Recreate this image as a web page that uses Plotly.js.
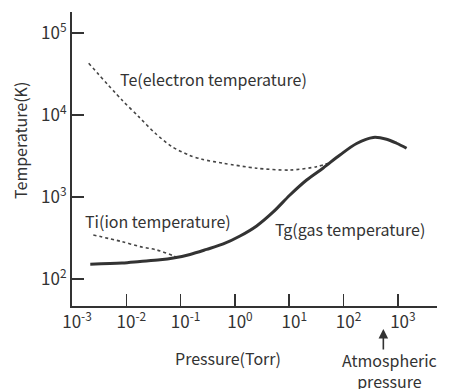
<!DOCTYPE html>
<html>
<head>
<meta charset="utf-8">
<script src="https://cdn.plot.ly/plotly-3.0.1.min.js"></script>
<style>html,body{margin:0;padding:0;background:#fff;}#chart{width:474px;height:389px;}</style>
</head>
<body>
<div id="chart"></div>
<script>
// Pressure (Torr) and temperatures (K)
const tgPressure = [0.00217, 0.00832, 0.0179, 0.0417, 0.0733, 0.149, 0.301, 0.610, 1.24, 2.51, 5.07, 10.3, 20.9, 42.2, 85.7, 174, 352, 619, 946, 1445];
const tgTemp     = [151, 156, 163, 171, 180, 199, 229, 267, 334, 443, 656, 1057, 1610, 2260, 3250, 4490, 5320, 5060, 4520, 3930];

const tePressure = [0.00203, 0.00832, 0.0169, 0.0341, 0.0693, 0.141, 0.247, 0.61, 2.51, 10.3, 31.9, 58.5];
const teTemp     = [42700, 15200, 9530, 5980, 4100, 3250, 2880, 2580, 2240, 2130, 2340, 2650];

const tiPressure = [0.00247, 0.00832, 0.0179, 0.0362, 0.0733, 0.0845];
const tiTemp     = [344, 285, 248, 226, 192, 184];

const xTickVals = [0.001, 0.01, 0.1, 1, 10, 100, 1000];
const xTickText = ['10<sup>-3</sup>', '10<sup>-2</sup>', '10<sup>-1</sup>', '10<sup>0</sup>', '10<sup>1</sup>', '10<sup>2</sup>', '10<sup>3</sup>'];
const yTickVals = [100, 1000, 10000, 100000];
const yTickText = ['10<sup>2</sup>', '10<sup>3</sup>', '10<sup>4</sup>', '10<sup>5</sup>'];

const labels = {
  te: 'Te(electron temperature)',
  ti: 'Ti(ion temperature)',
  tg: 'Tg(gas temperature)',
  x: 'Pressure(Torr)',
  y: 'Temperature(K)',
  atm: 'Atmospheric<br>pressure'
};

const FONT = '"Noto Sans CJK JP", "Noto Sans", sans-serif';
const INK = '#333333';

const traces = [
  {x: tePressure, y: teTemp, mode: 'lines', line: {color: '#444', width: 1.6, dash: 'dot', shape: 'spline', smoothing: 0.8}, hoverinfo: 'skip'},
  {x: tiPressure, y: tiTemp, mode: 'lines', line: {color: '#444', width: 1.6, dash: 'dot', shape: 'spline', smoothing: 0.8}, hoverinfo: 'skip'},
  {x: tgPressure, y: tgTemp, mode: 'lines', line: {color: '#333', width: 3, shape: 'spline', smoothing: 0.9}, hoverinfo: 'skip'}
];

const layout = {
  width: 474, height: 389,
  margin: {l: 72, r: 37, t: 12, b: 83},
  paper_bgcolor: '#fff', plot_bgcolor: '#fff',
  showlegend: false,
  font: {family: FONT, size: 16, color: INK},
  xaxis: {
    type: 'log', range: [-3, 3.72], tickmode: 'array', tickvals: xTickVals, ticktext: xTickText,
    showgrid: false, zeroline: false,
    showline: true, linecolor: INK, linewidth: 2,
    ticks: 'inside', ticklen: 12, tickwidth: 1.6, tickcolor: INK,
    ticklabelshift: 5,
    tickfont: {family: FONT, size: 17, color: INK}
  },
  yaxis: {
    type: 'log', range: [1.67, 5.256], tickmode: 'array', tickvals: yTickVals, ticktext: yTickText,
    showgrid: false, zeroline: false,
    showline: true, linecolor: INK, linewidth: 2,
    ticks: 'inside', ticklen: 12, tickwidth: 1.6, tickcolor: INK,
    tickfont: {family: FONT, size: 17, color: INK}
  },
  annotations: [
    {xref: 'paper', yref: 'paper', x: 0.126, y: 0.772, xanchor: 'left', yanchor: 'middle', text: labels.te, showarrow: false},
    {xref: 'paper', yref: 'paper', x: 0.030, y: 0.289, xanchor: 'left', yanchor: 'middle', text: labels.ti, showarrow: false},
    {xref: 'paper', yref: 'paper', x: 0.551, y: 0.262, xanchor: 'left', yanchor: 'middle', text: labels.tg, showarrow: false},
    {xref: 'paper', yref: 'paper', x: 0.4274, y: -0.177, xanchor: 'center', yanchor: 'middle', text: labels.x, showarrow: false},
    {xref: 'paper', yref: 'paper', x: -0.1425, y: 0.565, xanchor: 'center', yanchor: 'middle', text: labels.y, textangle: -90, showarrow: false},
    {xref: 'paper', yref: 'paper', x: 0.871, y: -0.218, xanchor: 'center', yanchor: 'middle', text: labels.atm, showarrow: false},
    {xref: 'paper', yref: 'paper', x: 0.853, y: -0.0782, ax: 0, ay: 22, text: '', showarrow: true, arrowhead: 2, arrowsize: 1.2, arrowwidth: 1.6, arrowcolor: INK}
  ]
};

Plotly.newPlot('chart', traces, layout, {staticPlot: true, displayModeBar: false});
</script>
</body>
</html>
